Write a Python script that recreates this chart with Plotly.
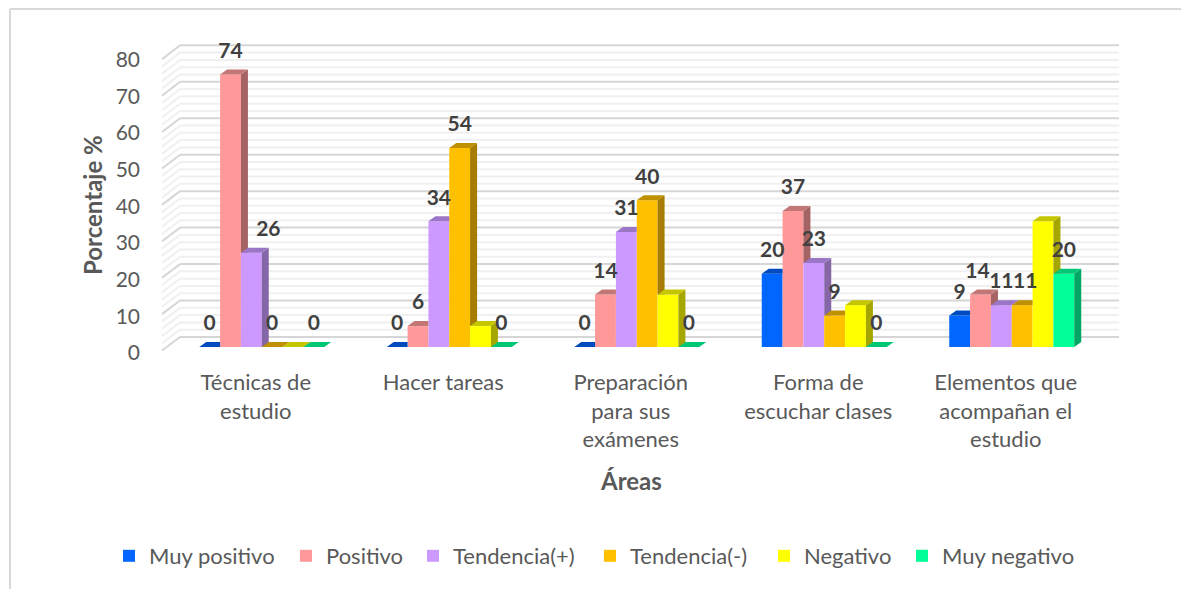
import plotly.graph_objects as go

categories = ["Técnicas de<br>estudio", "Hacer tareas", "Preparación<br>para sus<br>exámenes",
              "Forma de<br>escuchar clases", "Elementos que<br>acompañan el<br>estudio"]
series_names = ["Muy positivo", "Positivo", "Tendencia(+)", "Tendencia(-)", "Negativo", "Muy negativo"]
muy_positivo = [0, 0, 0, 20, 8.6]
positivo = [74.3, 5.7, 14.3, 37.1, 14.3]
tendencia_pos = [25.7, 34.3, 31.4, 22.9, 11.4]
tendencia_neg = [0, 54.3, 40, 8.6, 11.4]
negativo = [0, 5.7, 14.3, 11.4, 34.3]
muy_negativo = [0, 0, 0, 0, 20]
values = [muy_positivo, positivo, tendencia_pos, tendencia_neg, negativo, muy_negativo]

front = ["#0066FF", "#FF9999", "#CC99FF", "#FFC000", "#FFFF00", "#00FF99"]
side = ["#003D99", "#A56363", "#8566A6", "#A67D00", "#A6A600", "#00A663"]
top = ["#004CBF", "#C37676", "#9C76C6", "#BF9000", "#C6C600", "#00C676"]
labelled = [True, True, True, True, False, True]
legend_text_left = [149, 326, 453, 630, 804, 942]

W, H = 1181, 589
L, R, T, B = 146, 1130, 30, 362
X0, CAT = 168.0, 187.5      # pixel of x=-0.5, pixels per category
Y0, UNIT = 347.0, 3.666     # pixel of y=0, pixels per percent
px = lambda n: n / CAT
pu = lambda n: n / UNIT
DX, DY = px(7), pu(5)
BW = 1 / 9

fig = go.Figure()
for j, name in enumerate(series_names):
    fig.add_trace(go.Bar(x=list(range(5)), y=values[j], name=name, marker=dict(color=front[j], line_width=0),
                         hoverinfo="x+y", legend="legend" if j == 0 else f"legend{j + 1}"))

for j in range(6):
    sx, sy, tx, ty = [], [], [], []
    for i in range(5):
        v = values[j][i]
        xl = i + (j - 3) * BW
        xr = xl + BW
        vn = values[j + 1][i] if j < 5 else None
        if v > 0 and (vn is None or v > vn):
            base = 0 if vn is None else vn
            low = [base + DY, base] if vn is None else [base, base]
            sx += [xr, xr, xr + DX, xr + DX, None]
            sy += [low[1], v, v + DY, low[0], None]
        if vn is not None and vn > v:
            tx += [xl, xr, xr, xl + DX, None]
            ty += [v, v, v + DY, v + DY, None]
        else:
            tx += [xl, xr, xr + DX, xl + DX, None]
            ty += [v, v, v + DY, v + DY, None]
    common = dict(mode="lines", line=dict(width=0), fill="toself", showlegend=False, hoverinfo="skip")
    fig.add_trace(go.Scatter(x=sx, y=sy, fillcolor=side[j], **common))
    fig.add_trace(go.Scatter(x=tx, y=ty, fillcolor=top[j], **common))

# label nudges that depart from the default position, in pixels: (series, category) -> dx
label_nudge = {(2, 0): 17, (1, 4): -3, (3, 4): 3}
LIFT = pu(22)
for j in range(6):
    if not labelled[j]:
        continue
    lx = [i + (j - 2.5) * BW + px(label_nudge.get((j, i), 0)) for i in range(5)]
    ly = [v + LIFT for v in values[j]]
    txt = [f"{v:.0f}" for v in values[j]]
    fig.add_trace(go.Scatter(x=lx, y=ly, text=txt, mode="text", textposition="middle center",
                             textfont=dict(family="Lato", size=21, color="#404040", weight="bold"),
                             showlegend=False, hoverinfo="skip", cliponaxis=False))

shapes = []
BACK_L, BACK_R = -0.5 + px(180 - X0), -0.5 + px(1119 - X0)
WALL_L = -0.5 + px(162 - X0)
for major in (False, True):
    for g in range(0, 81, 2):
        if (g % 10 == 0) != major:
            continue
        color = "#D6D6D6" if major else "#F0F0F0"
        by = g * 0.9945 + pu(10)
        fy = g * 0.993 - pu(3.5)
        shapes.append(dict(type="line", xref="x", yref="y", x0=WALL_L, x1=BACK_L, y0=fy, y1=by,
                           line=dict(color=color, width=2), layer="below"))
        shapes.append(dict(type="line", xref="x", yref="y", x0=BACK_L, x1=BACK_R, y0=by, y1=by,
                           line=dict(color=color, width=2), layer="below"))

xp = lambda p: (p - L) / (R - L)
yp = lambda p: (B - p) / (B - T)
for a, b, c, d in [(10, 9, 1181, 9), (10, 9, 10, 589)]:
    shapes.append(dict(type="line", xref="paper", yref="paper", x0=xp(a), y0=yp(b), x1=xp(c), y1=yp(d),
                       line=dict(color="#D9D9D9", width=2), layer="below"))

TXT = "#595959"
legends = {}
for j, t in enumerate(legend_text_left):
    legends["legend" if j == 0 else f"legend{j + 1}"] = dict(
        orientation="h", x=xp(t - 40), xanchor="left", y=yp(556), yanchor="middle",
        font=dict(size=22, color=TXT), bgcolor="rgba(0,0,0,0)")

fig.update_layout(
    width=W, height=H, margin=dict(l=L, r=W - R, t=T, b=H - B, autoexpand=False),
    paper_bgcolor="white", plot_bgcolor="white",
    barmode="group", bargap=1 / 3, bargroupgap=0,
    font=dict(family="Lato", color=TXT, size=20),
    shapes=shapes,
    xaxis=dict(range=[-0.5 + px(L - X0), -0.5 + px(R - X0)], tickvals=list(range(5)), ticktext=categories,
               showgrid=False, zeroline=False, showline=False, ticks="", tickfont=dict(size=22, color=TXT),
               ticklabelstandoff=5, ticklabelshift=-6),
    yaxis=dict(range=[pu(Y0 - B), pu(Y0 - T)], tickvals=list(range(0, 81, 10)), showgrid=False, zeroline=False,
               showline=False, ticks="", tickfont=dict(size=21, color=TXT), ticklabelshift=6, ticklabelstandoff=5),
    annotations=[
        dict(text="<b>Porcentaje %</b>", xref="paper", yref="paper", x=xp(92), y=yp(205), textangle=-90,
             showarrow=False, font=dict(size=24, color=TXT), xanchor="center", yanchor="middle"),
        dict(text="<b>Áreas</b>", xref="paper", yref="paper", x=xp(631), y=yp(480),
             showarrow=False, font=dict(size=24, color=TXT), xanchor="center", yanchor="middle"),
    ],
    **legends,
)
fig.write_html("out.html", config=dict(displayModeBar=False), post_script="document.body.style.margin='0';")
